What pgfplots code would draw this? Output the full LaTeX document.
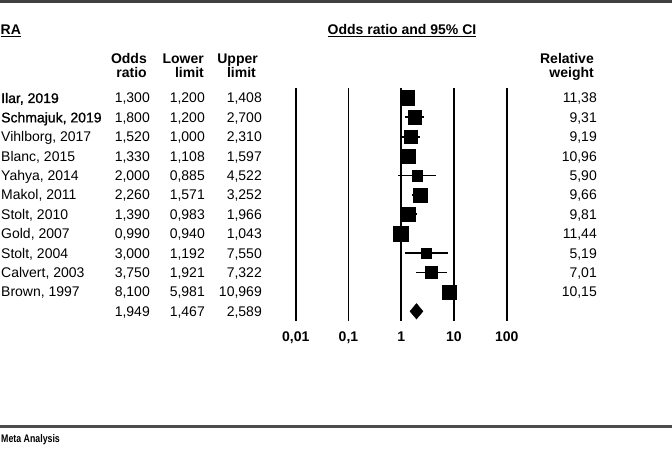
\documentclass[border=0pt]{standalone}
\usepackage{fontspec}
\setmainfont{Liberation Sans}
\newfontfamily\fbfont[FakeBold=1.0]{Liberation Sans}
\usepackage{graphicx}
\usepackage{pgfplots}
\pgfplotsset{compat=1.18}
\usepackage{pgfplotstable}

% row  odds ratio  lower  upper  relative weight
\pgfplotstableread{
row or lo hi w
0 1.300 1.200 1.408 11.38
1 1.800 1.200 2.700 9.31
2 1.520 1.000 2.310 9.19
3 1.330 1.108 1.597 10.96
4 2.000 0.885 4.522 5.90
5 2.260 1.571 3.252 9.66
6 1.390 0.983 1.966 9.81
7 0.990 0.940 1.043 11.44
8 3.000 1.192 7.550 5.19
9 3.750 1.921 7.322 7.01
10 8.100 5.981 10.969 10.15
}\studies

\newcommand\rowt[7]{%
  \pgfmathsetmacro\yb{346-19.4*#1}%
  \node[tx, anchor=base west] at (1pt,\yb pt) {#2#3};
  \node[tx, anchor=base east] at (150pt,\yb pt) {#4};
  \node[tx, anchor=base east] at (205pt,\yb pt) {#5};
  \node[tx, anchor=base east] at (262pt,\yb pt) {#6};
  \node[tx, anchor=base east] at (597pt,\yb pt) {#7};
}

\begin{document}
\begin{tikzpicture}[tx/.style={inner sep=0pt, font=\fontsize{14}{16}\selectfont},
  bx/.style={inner sep=0pt, font=\fontsize{14}{16}\selectfont\bfseries}]
\useasboundingbox (0,0) rectangle (672pt,449pt);
\draw[line width=2.7pt, black!75] (0,447.7pt) -- (672pt,447.7pt);
\draw[line width=2.5pt, black!70] (0,22.7pt) -- (672pt,22.7pt);

\begin{axis}[
  at={(295.7pt,128pt)}, anchor=south west, scale only axis,
  width=211pt, height=232.8pt,
  xmode=log, log basis x=10,
  xmin=0.01, xmax=100, ymin=-11.5, ymax=0.5,
  axis line style={draw=none}, ytick=\empty,
  xtick={0.01,0.1,1,10,100}, xticklabels={{0,01},{0,1},1,10,100},
  xmajorgrids, major grid style={black, line width=1.9pt},
  major tick length=0pt,
  xticklabel style={font=\fontsize{14}{16}\selectfont\bfseries, anchor=base, yshift=-20.7pt, inner sep=0pt},
  clip=false,
  unbounded coords=jump,
]
% confidence intervals
\addplot[black, line width=1.8pt] coordinates {
 (1.200,0) (1.408,0) (nan,nan)
 (1.200,-1) (2.700,-1) (nan,nan)
 (1.000,-2) (2.310,-2) (nan,nan)
 (1.108,-3) (1.597,-3) (nan,nan)
 (0.885,-4) (4.522,-4) (nan,nan)
 (1.571,-5) (3.252,-5) (nan,nan)
 (0.983,-6) (1.966,-6) (nan,nan)
 (0.940,-7) (1.043,-7) (nan,nan)
 (1.192,-8) (7.550,-8) (nan,nan)
 (1.921,-9) (7.322,-9) (nan,nan)
 (5.981,-10) (10.969,-10)
};
% study squares sized by weight
\addplot[scatter, only marks, mark=square*,
  scatter/use mapped color={draw=black, fill=black},
  visualization depends on={2.2*sqrt(\thisrow{w}) \as \ms},
  scatter/@pre marker code/.append style={/tikz/mark size=\ms}]
  table[x=or, y expr=-\thisrow{row}] {\studies};
% summary diamond
\addplot[black, fill=black, line width=0.4pt] coordinates {
 (1.467,-11) (1.949,-10.6) (2.589,-11) (1.949,-11.4) (1.467,-11)} -- cycle;
\end{axis}

\node[bx, anchor=base west] (ra) at (0.5pt,414.7pt) {RA};
\draw[line width=1.3pt] ([yshift=-2.5pt]ra.base west) -- ([yshift=-2.5pt]ra.base east);
\node[bx, anchor=base] (ti) at (402pt,414.7pt) {Odds ratio and 95\% CI};
\draw[line width=1.3pt] ([yshift=-2.5pt]ti.base west) -- ([yshift=-2.5pt]ti.base east);

\node[bx, anchor=base east] at (147pt,385.7pt) {Odds};
\node[bx, anchor=base east] at (147pt,371pt) {ratio};
\node[bx, anchor=base east] at (204pt,385.7pt) {Lower};
\node[bx, anchor=base east] at (204pt,371pt) {limit};
\node[bx, anchor=base east] at (258pt,385.7pt) {Upper};
\node[bx, anchor=base east] at (256pt,371pt) {limit};
\node[bx, anchor=base east] at (594pt,385.7pt) {Relative};
\node[bx, anchor=base east] at (594pt,371pt) {weight};

\rowt{0}{\fbfont}{Ilar, 2019}{1,300}{1,200}{1,408}{11,38}
\rowt{1}{\fbfont}{Schmajuk, 2019}{1,800}{1,200}{2,700}{9,31}
\rowt{2}{}{Vihlborg, 2017}{1,520}{1,000}{2,310}{9,19}
\rowt{3}{}{Blanc, 2015}{1,330}{1,108}{1,597}{10,96}
\rowt{4}{}{Yahya, 2014}{2,000}{0,885}{4,522}{5,90}
\rowt{5}{}{Makol, 2011}{2,260}{1,571}{3,252}{9,66}
\rowt{6}{}{Stolt, 2010}{1,390}{0,983}{1,966}{9,81}
\rowt{7}{}{Gold, 2007}{0,990}{0,940}{1,043}{11,44}
\rowt{8}{}{Stolt, 2004}{3,000}{1,192}{7,550}{5,19}
\rowt{9}{}{Calvert, 2003}{3,750}{1,921}{7,322}{7,01}
\rowt{10}{}{Brown, 1997}{8,100}{5,981}{10,969}{10,15}
\rowt{11}{}{}{1,949}{1,467}{2,589}{}

\node[anchor=base west, inner sep=0pt] at (1pt,6pt) {\scalebox{0.8}[1]{\fontsize{11}{13}\selectfont\bfseries Meta Analysis}};
\end{tikzpicture}
\end{document}
